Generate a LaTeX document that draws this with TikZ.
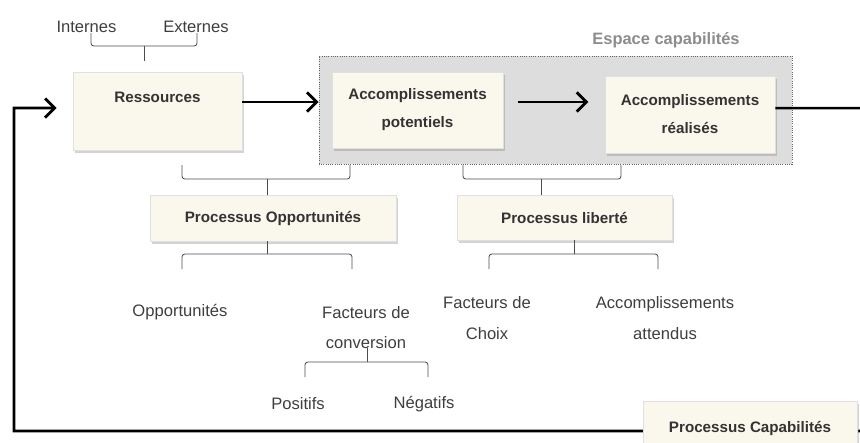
\documentclass[tikz,border=0pt]{standalone}
\usepackage{fontspec}
\setmainfont{Liberation Sans}
\usetikzlibrary{arrows.meta,shadows}

\definecolor{boxfill}{RGB}{250,247,236}
\definecolor{espacegray}{RGB}{221,221,221}
\definecolor{textgray}{RGB}{62,62,62}

\tikzset{
  box/.style={draw=black!12, fill=boxfill, inner sep=0pt, align=center,
    drop shadow={opacity=0.35, shadow xshift=0.05cm, shadow yshift=-0.07cm},
    font=\bfseries\fontsize{10.8}{20}\selectfont, text=black!80},
  espacebox/.style={draw=black!60, densely dotted, line width=0.6pt, fill=espacegray, inner sep=0pt},
  lbl/.style={font=\fontsize{11.8}{21.5}\selectfont, text=textgray, align=center, inner sep=0pt},
  flow/.style={line width=1.8pt, -{Straight Barb[length=2.4mm,width=4.8mm,line width=2pt]}},
  brace/.style={draw=black!70, line width=0.6pt, rounded corners=2pt},
}

\begin{document}
\begin{tikzpicture}[x=0.025cm,y=-0.025cm]
\useasboundingbox (0,0) rectangle (860,442);
\clip (0,0) rectangle (860,442);

% espace capabilites
\node[espacebox, minimum width=11.825cm, minimum height=2.7cm] (espace) at (555.5,110) {};
\node[font=\bfseries\fontsize{11.7}{14}\selectfont, text=black!45] (titre) at (666,40) {Espace capabilités};

% boxes
\node[box, minimum width=4.225cm, minimum height=1.95cm] (ressources) at (157.5,111) {Ressources\\\mbox{}};
\node[box, minimum width=4.275cm, minimum height=1.9cm] (potentiels) at (417.5,110) {Accomplissements\\potentiels};
\node[box, minimum width=4.25cm, minimum height=1.925cm] (realises) at (690,114.5) {Accomplissements\\réalisés};
\node[box, minimum width=6.15cm, minimum height=1.15cm] (opp) at (273,218) {Processus Opportunités};
\node[box, minimum width=5.375cm, minimum height=1.125cm] (liberte) at (564.5,217.5) {Processus liberté};

% arrows
\draw[flow] ([yshift=0.225cm]ressources.east) -- ([yshift=0.225cm]ressources.east -| espace.west);
\draw[flow] ([shift={(0.375cm,0.2cm)}]potentiels.east) -- +(1.75cm,0);
\draw[flow] ([yshift=0.16cm]realises.east) -- (880,108) |- (14,431) |- ([shift={(-0.4cm,0.075cm)}]ressources.west);

\node[box, minimum width=5.35cm, minimum height=1.35cm] (capab) at (750,428) {Processus Capabilités};

% labels
\node[lbl] (internes) at (86.5,27) {Internes};
\node[lbl] (externes) at (196,27) {Externes};
\node[lbl] (opportunites) at (180,312) {Opportunités};
\node[lbl] (conversion) at (366,327.5) {Facteurs de\\conversion};
\node[lbl] (choix) at (487,318) {Facteurs de\\Choix};
\node[lbl] (attendus) at (665,318) {Accomplissements\\attendus};
\node[lbl] (positifs) at (298,404) {Positifs};
\node[lbl] (negatifs) at (424,404) {Négatifs};

% braces
\draw[brace] (91,33) |- (197,46) -- (197,33);
\draw[brace] (144,46) -- (144,61);
\draw[brace] (182,165) |- (350,179) -- (350,165);
\draw[brace] (267,179) -- (opp.north -| 267,0);
\draw[brace] (463,165) |- (621,179) -- (621,165);
\draw[brace] (541,179) -- (liberte.north -| 541,0);
\draw[brace] (182,269) |- (352,254) -- (352,269);
\draw[brace] (opp.south -| 267,0) -- (267,254);
\draw[brace] (489,269) |- (658,254) -- (658,269);
\draw[brace] (liberte.south -| 574,0) -- (574,254);
\draw[brace] (305,377) |- (428,362) -- (428,377);
\draw[brace] (367,348) -- (367,362);

\end{tikzpicture}
\end{document}
